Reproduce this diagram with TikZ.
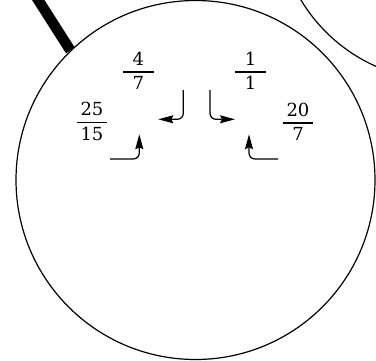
\documentclass[tikz,border=0pt]{standalone}
\usepackage{fontspec}
\setmainfont{DejaVu Serif}
\usetikzlibrary{arrows.meta}
\newcommand{\fr}[2]{\vbox{\hbox to 30.5pt{\hfil#1\hfil}\kern5.8pt\hrule height1.4pt\kern3.9pt\hbox to 30.5pt{\hfil#2\hfil}}}
\begin{document}
\begin{tikzpicture}[x=1pt,y=-1pt,
  ring/.style={draw,circle,line width=1.2pt,inner sep=0pt},
  lab/.style={inner sep=0pt,anchor=base,font=\fontsize{18}{22}\selectfont},
  arr/.style={line width=1.2pt,rounded corners=6pt,-{Stealth[length=15pt,width=8pt,inset=2pt]}},
  edge/.style={line width=10.5pt}]
\useasboundingbox (0,0) rectangle (376,360);
\node[ring,minimum size=359pt] (main) at (195.5,180) {};
\node[ring,minimum size=331pt] (sib) at (443,-85) {};
\coordinate (parent) at (0,-60);
\draw[edge] (main.134) -- (parent);
\node[lab] (f1) at (138.3,89.9) {\fr{4}{7}};
\node[lab] (f2) at (250.5,89.9) {\fr{1}{1}};
\node[lab] (f3) at (92,140.6) {\fr{25}{15}};
\node[lab] (f4) at (298,140.6) {\fr{20}{7}};
\coordinate (a1s) at (183.3,90);
\coordinate (a1e) at (158.3,119.3);
\coordinate (a2s) at (210,90);
\coordinate (a2e) at (235,119.3);
\coordinate (a3s) at (110,159);
\coordinate (a3e) at (139.3,134.3);
\coordinate (a4s) at (278,159);
\coordinate (a4e) at (249,134.3);
\draw[arr] (a1s) |- (a1e);
\draw[arr] (a2s) |- (a2e);
\draw[arr] (a3s) -| (a3e);
\draw[arr] (a4s) -| (a4e);
\end{tikzpicture}
\end{document}
